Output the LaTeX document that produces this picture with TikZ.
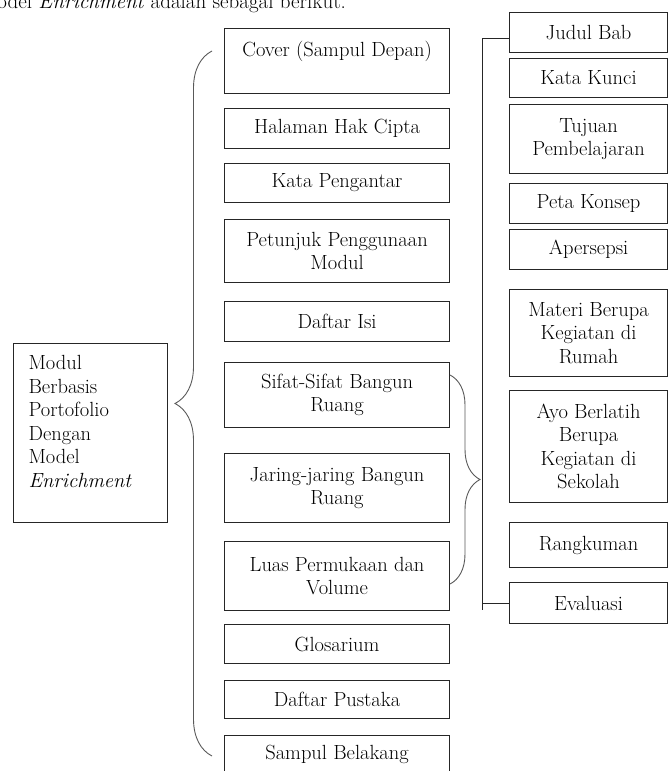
\documentclass[tikz,border=0pt]{standalone}
\usepackage{fontspec}
\usetikzlibrary{decorations.pathreplacing, positioning}

\tikzset{
	kotak/.style={draw=black!85, line width=1.1pt, align=center, inner sep=2pt,
		font=\fontsize{20.5}{23.5}\selectfont},
	kurung/.style={decorate, decoration={brace, amplitude=#1}, draw=black!65, line width=0.9pt},
	kurung/.default=37pt,
	garis/.style={draw=black!85, line width=0.9pt}
}
% kotak kolom tengah: nama, atas, tinggi, teks
\newcommand{\kotakTengah}[4]{
	\node[kotak, anchor=north west, minimum width=225pt, minimum height=#3pt] (#1) at (224,#2) {#4};
}
% kotak kolom kanan: nama, atas, tinggi, teks
\newcommand{\kotakKanan}[4]{
	\node[kotak, anchor=north west, minimum width=158pt, minimum height=#3pt] (#1) at (509,#2) {#4};
}

\begin{document}
\begin{tikzpicture}[x=1pt, y=-1pt]
	\useasboundingbox (0,0) rectangle (669,771);
	\node[anchor=base west, font=\fontsize{21}{25}\selectfont] (kalimat) at (-24,9)
		{Model \textit{Enrichment} adalah sebagai berikut.};

	% Modul utama
	\node[kotak, anchor=north west, minimum height=179pt, text width=124pt, inner xsep=15pt, align=left]
		(modul) at (13,343) {Modul\\Berbasis\\Portofolio\\Dengan\\Model\\\textit{Enrichment}\\ \mbox{}};

	% Kolom tengah
	\kotakTengah{cover}{28}{65}{Cover (Sampul Depan)\\ \mbox{}}
	\kotakTengah{hakcipta}{108}{40}{Halaman Hak Cipta}
	\kotakTengah{pengantar}{163}{39}{Kata Pengantar}
	\kotakTengah{petunjuk}{219}{63}{Petunjuk Penggunaan\\Modul}
	\kotakTengah{daftarisi}{301}{40}{Daftar Isi}
	\kotakTengah{sifat}{362}{65}{Sifat-Sifat Bangun\\Ruang}
	\kotakTengah{jaring}{453}{69}{Jaring-jaring Bangun\\Ruang}
	\kotakTengah{luas}{541}{69}{Luas Permukaan dan\\Volume}
	\kotakTengah{glosarium}{624}{39}{Glosarium}
	\kotakTengah{pustaka}{680}{38}{Daftar Pustaka}
	\kotakTengah{belakang}{735}{38}{Sampul Belakang}

	% Kolom kanan
	\kotakKanan{judul}{12}{40}{Judul Bab}
	\kotakKanan{kunci}{58}{39}{Kata Kunci}
	\kotakKanan{tujuan}{104}{69}{Tujuan\\Pembelajaran}
	\kotakKanan{peta}{183}{40}{Peta Konsep}
	\kotakKanan{apersepsi}{229}{40}{Apersepsi}
	\kotakKanan{materi}{289}{87}{Materi Berupa\\Kegiatan di\\Rumah}
	\kotakKanan{ayo}{390}{112}{Ayo Berlatih\\Berupa\\Kegiatan di\\Sekolah}
	\kotakKanan{rangkuman}{522}{45}{Rangkuman}
	\kotakKanan{evaluasi}{582}{41}{Evaluasi}

	% Kurung kurawal
	\coordinate (kiriatas) at (212,51);
	\coordinate (kiribawah) at (212,756);
	\draw[kurung] (kiribawah) -- (kiriatas);
	\coordinate (tengahatas) at (450,375);
	\coordinate (tengahbawah) at (450,584);
	\draw[kurung=30pt] (tengahatas) -- (tengahbawah);

	% Garis ke kolom kanan
	\draw[garis] ([yshift=-6pt]judul.west) -- ++(-27,0) coordinate (siku) -- (siku |- 0,610);
	\draw[garis] (evaluasi.west) -- (evaluasi.west -| siku);
\end{tikzpicture}
\end{document}
